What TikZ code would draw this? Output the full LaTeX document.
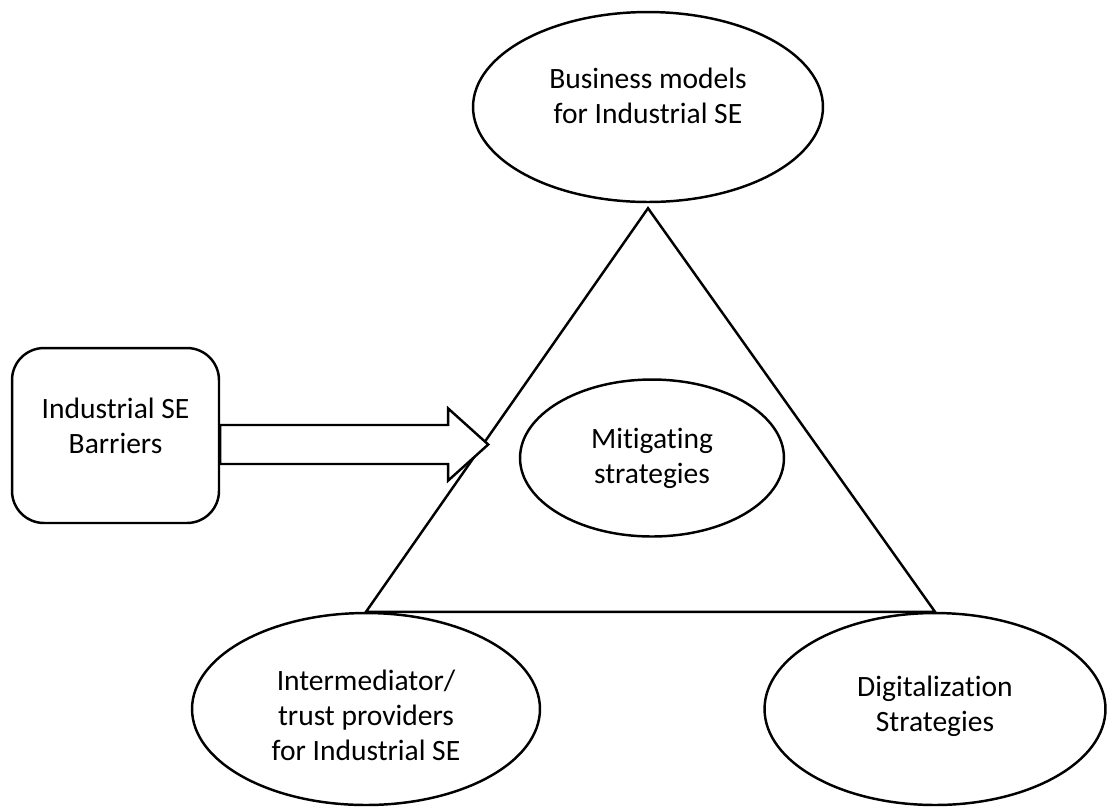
\documentclass[tikz,border=0pt]{standalone}
\usepackage{fontspec}
\setmainfont[Ligatures=NoCommon]{Carlito}
\usepackage{tikz}
\usetikzlibrary{calc,shapes.geometric}
\tikzset{
  bubble/.style={draw, ellipse, line width=1.4pt, inner sep=0pt, align=center,
    font=\fontsize{16.8}{20}\selectfont},
  barrierbox/.style={draw, rectangle, rounded corners=0.64cm, line width=1.4pt,
    align=center, font=\fontsize{16.8}{20}\selectfont},
  lifted/.style={text depth=#1},
  sunk/.style={text height=#1}
}

\begin{document}
\begin{tikzpicture}[x=0.02cm, y=-0.02cm]
\useasboundingbox (0,0) rectangle (1108,806);
\node [bubble, lifted=0.46cm, minimum width=7cm, minimum height=3.8cm] (biz) at (648,107) {Business models\\for Industrial SE};
\node [bubble, minimum width=5.28cm, minimum height=3.14cm] (mitig) at (652,458) {Mitigating\\strategies};
\node [bubble, sunk=2.07cm, minimum width=6.96cm, minimum height=3.84cm] (inter) at (366,709) {Intermediator/\\trust providers\\for Industrial SE};
\node [bubble, lifted=0.2cm, minimum width=6.82cm, minimum height=3.84cm] (digit) at (935,709) {Digitalization\\Strategies};
\node [barrierbox, lifted=0.4cm, minimum width=4.14cm, minimum height=3.5cm] (barriers) at (115.5,435.5) {Industrial SE\\Barriers};
\draw [line width=1.4pt, line join=miter] ($(biz.south)+(0,5)$) -- (inter.north) -- (digit.north) -- cycle;
\coordinate (tail) at ($(barriers.east)+(0,9)$);
\draw [line width=1.4pt, fill=white] (tail) ++(0,-19.5) -- ++(228,0) -- ++(0,-16.5) -- ++(40,36)
  -- ++(-40,36) -- ++(0,-16.5) -- ++(-228,0) -- cycle;
\end{tikzpicture}
\end{document}
